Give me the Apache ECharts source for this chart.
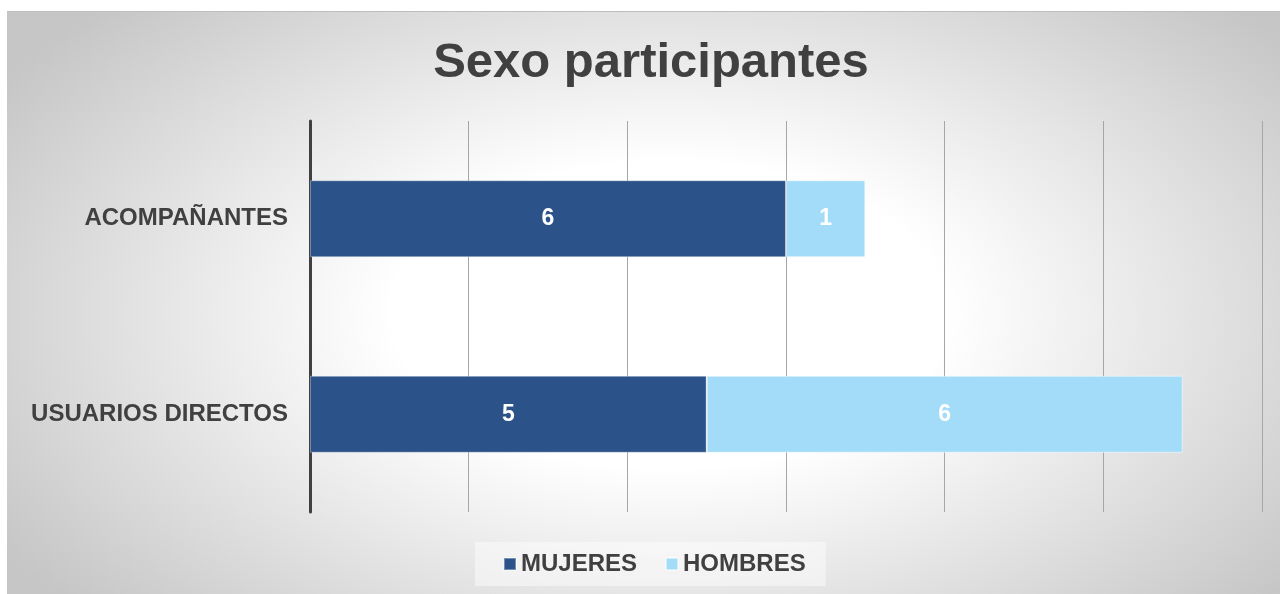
<!DOCTYPE html>
<html>
<head>
<meta charset="utf-8">
<script src="https://cdn.jsdelivr.net/npm/echarts@6/dist/echarts.min.js"></script>
<style>
  html, body { margin: 0; padding: 0; background: #fff; }
  #bg {
    position: absolute; left: 7px; top: 11px; width: 1273px; height: 583px;
    background: radial-gradient(ellipse 62% 75% at 52% 52%, #ffffff 35%, #c6c6c6 100%);
    border-top: 1px solid #bdbdbd;
  }
  #chart { position: absolute; left: 0; top: 0; width: 1280px; height: 594px; }
</style>
</head>
<body>
<div id="bg"></div>
<div id="chart"></div>
<script>
const categories = ['USUARIOS DIRECTOS', 'ACOMPAÑANTES']
const mujeres = [5, 6]
const hombres = [6, 1]

const chart = echarts.init(document.getElementById('chart'))
const labelStyle = {
  show: true,
  color: '#ffffff',
  fontSize: 23,
  fontWeight: 'bold',
  fontFamily: 'Liberation Sans'
}
const option = {
  textStyle: { fontFamily: 'Liberation Sans' },
  title: {
    text: 'Sexo participantes',
    left: 646,
    textAlign: 'center',
    top: 34,
    textStyle: { fontSize: 49, fontWeight: 'bold', color: '#404040', fontFamily: 'Liberation Sans' }
  },
  legend: {
    data: ['MUJERES', 'HOMBRES'],
    left: 475,
    top: 542,
    padding: [10, 20, 10, 28],
    itemGap: 28,
    itemWidth: 12,
    itemHeight: 12,
    icon: 'rect',
    backgroundColor: 'rgba(255,255,255,0.45)',
    textStyle: { fontSize: 24, fontWeight: 'bold', color: '#404040' }
  },
  grid: { left: 310, right: 18, top: 121, bottom: 82, containLabel: false },
  xAxis: {
    type: 'value',
    min: 0,
    max: 12,
    interval: 2,
    axisLabel: { show: false },
    axisLine: { show: false },
    axisTick: { show: false },
    splitLine: { lineStyle: { color: '#a6a6a6', width: 1 } }
  },
  yAxis: {
    type: 'category',
    data: categories,
    axisTick: { show: false },
    axisLine: { lineStyle: { color: '#404040', width: 3 } },
    axisLabel: { fontSize: 24, fontWeight: 'bold', color: '#404040', margin: 22 }
  },
  series: [
    {
      name: 'MUJERES',
      type: 'bar',
      stack: 'total',
      data: mujeres,
      barWidth: 77,
      itemStyle: { color: '#2b5389', borderColor: 'rgba(255,255,255,0.35)', borderWidth: 1 },
      label: labelStyle
    },
    {
      name: 'HOMBRES',
      type: 'bar',
      stack: 'total',
      data: hombres,
      barWidth: 77,
      itemStyle: { color: '#a3dcf8', borderColor: 'rgba(255,255,255,0.5)', borderWidth: 1 },
      label: labelStyle
    }
  ]
}
chart.setOption(option)
</script>
</body>
</html>
